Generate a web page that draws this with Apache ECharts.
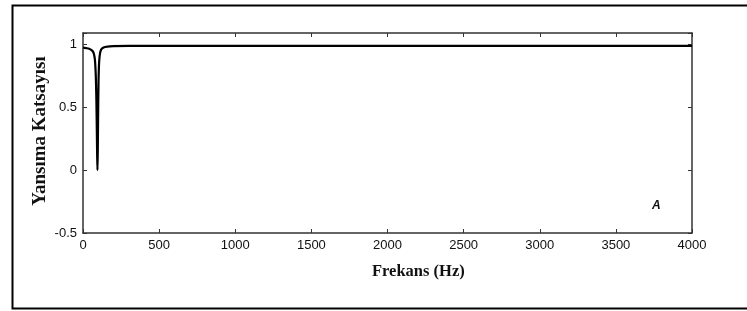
<!DOCTYPE html>
<html>
<head>
<meta charset="utf-8">
<script src="https://cdn.jsdelivr.net/npm/echarts@6/dist/echarts.min.js"></script>
<style>
  html, body { margin: 0; padding: 0; background: #fff; }
  #chart { width: 747px; height: 311px; }
</style>
</head>
<body>
<div id="chart"></div>
<script>
// frekans (Hz) ve yansima katsayisi
var freqHz = [0, 20, 40, 60, 70, 78, 84, 88, 91, 93, 95, 97, 99, 102, 106, 112, 120, 135, 160, 200, 300, 500, 1000, 2000, 3000, 4000];
var reflCoef = [0.975, 0.97, 0.965, 0.95, 0.93, 0.88, 0.75, 0.55, 0.3, 0.12, 0.0, 0.15, 0.4, 0.7, 0.86, 0.93, 0.96, 0.975, 0.982, 0.985, 0.987, 0.988, 0.988, 0.988, 0.988, 0.988];
var xTicks = [0, 500, 1000, 1500, 2000, 2500, 3000, 3500, 4000];
var yTicks = [-0.5, 0, 0.5, 1];

var lineData = freqHz.map(function (f, i) { return [f, reflCoef[i]]; });

var chart = echarts.init(document.getElementById("chart"));
var axisColor = "#333";

function frameAxis(extra) {
  var ax = {
    type: "value",
    axisLine: { show: true, onZero: false, lineStyle: { color: axisColor, width: 1.5 } },
    axisTick: { inside: true, length: 4, lineStyle: { color: axisColor } },
    splitLine: { show: false },
    axisLabel: { show: false }
  };
  for (var k in extra) ax[k] = extra[k];
  return ax;
}

var tickLabel = {
  color: "#111",
  fontFamily: "Liberation Sans",
  fontSize: 13,
  margin: 6
};

var option = {
  animation: false,
  grid: { left: 83, right: 55, top: 33, bottom: 78 },
  xAxis: [
    frameAxis({
      min: 0, max: 4000, interval: 500, position: "bottom",
      axisLabel: Object.assign({}, tickLabel, {
        formatter: function (v) { return xTicks.indexOf(v) >= 0 ? String(v) : ""; }
      })
    }),
    frameAxis({ min: 0, max: 4000, interval: 500, position: "top" })
  ],
  yAxis: [
    frameAxis({
      min: -0.5, max: 1.09, interval: 0.5, position: "left",
      axisLabel: Object.assign({}, tickLabel, {
        formatter: function (v) { return yTicks.indexOf(v) >= 0 ? String(v) : ""; }
      })
    }),
    frameAxis({ min: -0.5, max: 1.09, interval: 0.5, position: "right" })
  ],
  series: [
    {
      type: "line",
      data: lineData,
      showSymbol: false,
      smooth: 0.3,
      lineStyle: { color: "#000", width: 2.2 }
    }
  ],
  graphic: [
    {
      type: "rect",
      left: 10,
      top: 3,
      shape: { width: 745, height: 303 },
      style: { fill: "none", stroke: "#000", lineWidth: 2 }
    },
    {
      type: "text",
      left: 372,
      top: 263,
      style: {
        text: "Frekans (Hz)",
        font: "bold 16.5px 'Liberation Serif'",
        fill: "#111"
      }
    },
    {
      type: "text",
      x: 40,
      y: 131,
      rotation: Math.PI / 2,
      style: {
        text: "Yansıma Katsayısı",
        font: "bold 19px 'Liberation Serif'",
        fill: "#111",
        align: "center",
        verticalAlign: "middle"
      }
    },
    {
      type: "text",
      left: 652,
      top: 200,
      style: {
        text: "A",
        font: "italic bold 12px 'Liberation Sans'",
        fill: "#111"
      }
    }
  ]
};
chart.setOption(option);
</script>
</body>
</html>
